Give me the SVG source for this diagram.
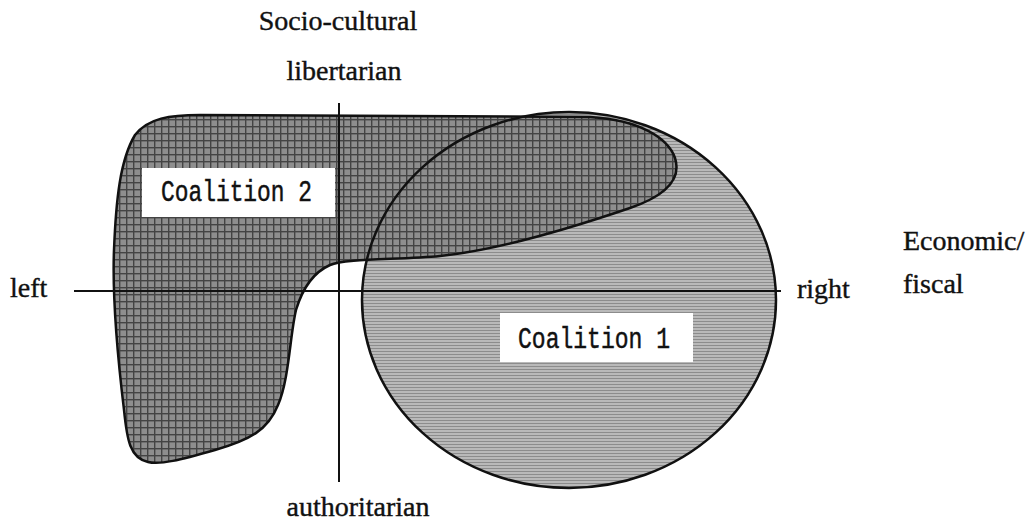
<svg xmlns="http://www.w3.org/2000/svg" width="1026" height="520" viewBox="0 0 1026 520">
<defs>
<pattern id="grid" patternUnits="userSpaceOnUse" width="7" height="7">
<rect width="7" height="7" fill="#8e8e8e"/>
<rect x="0" y="0" width="7" height="1.4" fill="#444"/>
<rect x="0" y="0" width="1.4" height="7" fill="#444"/>
</pattern>
<pattern id="hatch" patternUnits="userSpaceOnUse" width="4" height="3">
<rect width="4" height="3" fill="#b9b9b9"/>
<rect x="0" y="0" width="4" height="1" fill="#8c8c8c"/>
</pattern>
<style>
.lbl{font-family:"Liberation Serif","Times New Roman",serif;font-size:28px;fill:#111;stroke:#111;stroke-width:0.4}
.box{fill:#fff}
.ctext{font-family:"Liberation Mono","Courier New",monospace;font-size:30px;fill:#111;stroke:#111;stroke-width:0.5}
.outline{fill:none;stroke:#111;stroke-width:2.5}
.axis{stroke:#111;stroke-width:2;fill:none}
</style>
</defs>
<rect width="1026" height="520" fill="#fff"/>
<g id="coalition1-fill">
<ellipse cx="569" cy="300" rx="207" ry="188" fill="url(#hatch)"/>
</g>
<g id="coalition2-fill">
<path d="M 200 115 L 590 117 C 640 120, 668 138, 675 158 C 682 180, 665 196, 630 208 C 580 225, 500 250, 440 256 C 400 260, 345 258, 330 265 C 312 273, 302 290, 296 310 C 290 335, 289 380, 278 405 C 268 430, 250 440, 215 450 C 180 460, 160 465, 148 462 C 130 458, 127 440, 124 410 C 118 360, 112 300, 114 250 C 116 200, 120 160, 135 135 C 148 118, 170 115, 200 115 Z" fill="url(#grid)"/>
</g>
<g id="coalition1">
<ellipse class="outline" cx="569" cy="300" rx="207" ry="188"/>
<rect class="box" x="500" y="313" width="193" height="49"/>
<text class="ctext" x="518" y="348" textLength="152" lengthAdjust="spacingAndGlyphs">Coalition 1</text>
</g>
<g id="coalition2">
<path class="outline" d="M 200 115 L 590 117 C 640 120, 668 138, 675 158 C 682 180, 665 196, 630 208 C 580 225, 500 250, 440 256 C 400 260, 345 258, 330 265 C 312 273, 302 290, 296 310 C 290 335, 289 380, 278 405 C 268 430, 250 440, 215 450 C 180 460, 160 465, 148 462 C 130 458, 127 440, 124 410 C 118 360, 112 300, 114 250 C 116 200, 120 160, 135 135 C 148 118, 170 115, 200 115 Z"/>
<rect class="box" x="142" y="168" width="193" height="49"/>
<text class="ctext" x="161" y="201" textLength="151" lengthAdjust="spacingAndGlyphs">Coalition 2</text>
</g>
<g id="axes">
<line class="axis" x1="339" y1="103" x2="339" y2="482"/>
<line class="axis" x1="74" y1="291" x2="781" y2="291"/>
</g>
<g id="axis-labels">
<text class="lbl" x="338" y="30" text-anchor="middle">Socio-cultural</text>
<text class="lbl" x="344" y="80" text-anchor="middle">libertarian</text>
<text class="lbl" x="358" y="516" text-anchor="middle">authoritarian</text>
<text class="lbl" x="10" y="297">left</text>
<text class="lbl" x="797" y="298">right</text>
<text class="lbl" x="903" y="250">Economic/</text>
<text class="lbl" x="903" y="293">fiscal</text>
</g>
</svg>
